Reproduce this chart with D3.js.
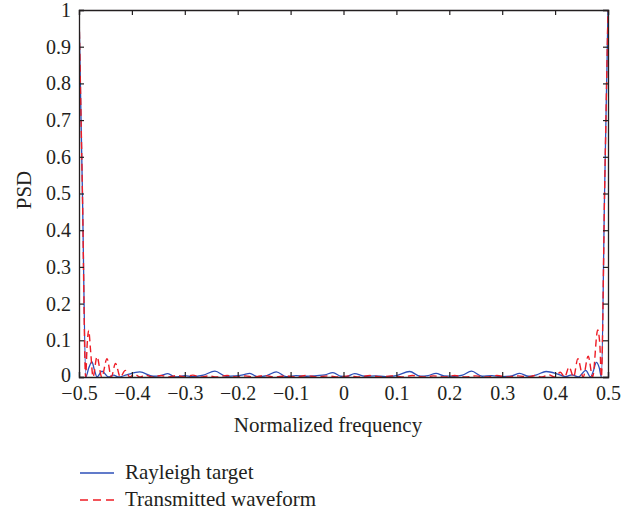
<!DOCTYPE html>
<meta charset="utf-8">
<script src="https://d3js.org/d3.v7.min.js"></script>
<style>
  body { margin: 0; background: #fff; }
  text { font-family: "Liberation Serif", "DejaVu Serif", serif; fill: #231f20; }
</style>
<div class="canvas"></div>

<script>
    const width = 641
    const height = 512
    const margin = {"top": 10, "right": 33, "bottom": 135, "left": 79}
    const graphWidth = width - margin.left - margin.right
    const graphHeight = height - margin.top - margin.bottom

    // tick values
    const xTicks = [-0.5, -0.4, -0.3, -0.2, -0.1, 0, 0.1, 0.2, 0.3, 0.4, 0.5]
    const yTicks = [0, 0.1, 0.2, 0.3, 0.4, 0.5, 0.6, 0.7, 0.8, 0.9, 1]

    // Rayleigh target (blue, solid)
    const rayleighFreq = [-0.5, -0.4935, -0.487, -0.4815, -0.4755, -0.471, -0.466, -0.4566, -0.444, -0.4345, -0.425, -0.41,
        -0.385, -0.36, -0.345, -0.332, -0.318, -0.3, -0.285, -0.265, -0.243, -0.222, -0.205, -0.19, -0.177, -0.163,
        -0.145, -0.127, -0.108, -0.09, -0.07, -0.05, -0.035, -0.02, -0.005, 0.005, 0.021, 0.04, 0.06, 0.08, 0.1,
        0.125, 0.145, 0.16, 0.175, 0.19, 0.21, 0.225, 0.242, 0.262, 0.28, 0.3, 0.318, 0.333, 0.35, 0.365, 0.383,
        0.405, 0.42, 0.432, 0.444, 0.458, 0.467, 0.472, 0.478, 0.4835, 0.4875, 0.4935, 0.5]
    const rayleighPsd = [1.0, 0.5, 0.0, 0.025, 0.041, 0.02, 0.0, 0.016, 0.0, 0.005, 0.0, 0.006,
        0.014, 0.002, 0.004, 0.009, 0.0, 0.004, 0.001, 0.005, 0.016, 0.002, 0.003, 0.006, 0.01, 0.001,
        0.004, 0.014, 0.001, 0.004, 0.002, 0.004, 0.006, 0.012, 0.002, 0.001, 0.009, 0.002, 0.003, 0.001, 0.004,
        0.015, 0.002, 0.004, 0.01, 0.003, 0.002, 0.005, 0.016, 0.002, 0.004, 0.001, 0.003, 0.01, 0.002, 0.006, 0.015,
        0.008, 0.001, 0.006, 0.0, 0.018, 0.0, 0.015, 0.04, 0.025, 0.0, 0.5, 1.0]

    // Transmitted waveform (red, dashed)
    const waveformFreq = [-0.5, -0.4935, -0.4875, -0.4845, -0.4817, -0.478, -0.4735, -0.466, -0.457, -0.447, -0.439,
        -0.431, -0.422, -0.4125, -0.404, -0.395, -0.385, -0.375, -0.36, -0.345, -0.33, -0.315, -0.3, -0.285, -0.27,
        -0.255, -0.24, -0.22, -0.2, -0.185, -0.17, -0.15, -0.13, -0.11, -0.09, -0.07, -0.05, -0.03, -0.01, 0.01,
        0.03, 0.05, 0.07, 0.09, 0.11, 0.13, 0.15, 0.17, 0.19, 0.21, 0.23, 0.25, 0.27, 0.29, 0.31, 0.33, 0.35,
        0.362, 0.375, 0.388, 0.399, 0.41, 0.418, 0.4265, 0.435, 0.443, 0.453, 0.4625, 0.471, 0.4805, 0.4845,
        0.4875, 0.4935, 0.5]
    const waveformPsd = [1.0, 0.5, 0.0, 0.09, 0.127, 0.07, 0.0, 0.055, 0.0, 0.05, 0.0,
        0.037, 0.0, 0.018, 0.0, 0.008, 0.0, 0.005, 0.0, 0.004, 0.0, 0.004, 0.0, 0.005, 0.0,
        0.003, 0.0, 0.004, 0.0, 0.003, 0.0, 0.004, 0.0, 0.003, 0.0, 0.004, 0.0, 0.003, 0.0, 0.003,
        0.0, 0.004, 0.0, 0.003, 0.0, 0.004, 0.0, 0.003, 0.0, 0.004, 0.0, 0.003, 0.0, 0.004, 0.0, 0.003, 0.0,
        0.004, 0.0, 0.006, 0.0, 0.013, 0.0, 0.027, 0.0, 0.05, 0.0, 0.057, 0.0, 0.128, 0.09,
        0.0, 0.5, 1.0]

    const series = [
        {name: "Rayleigh target", freq: rayleighFreq, psd: rayleighPsd, color: "#2d4fb8", dash: null, w: 1.3},
        {name: "Transmitted waveform", freq: waveformFreq, psd: waveformPsd, color: "#ee1c25", dash: "7,4", w: 1.4}
    ]

    const svg = d3.select(".canvas")
                .append("svg")
                .attr("width", width)
                .attr("height", height)

    const graph = svg.append("g")
                    .attr("transform", `translate(${margin.left},${margin.top})`)

    const x = d3.scaleLinear().domain([-0.5, 0.5]).range([0, graphWidth])
    const y = d3.scaleLinear().domain([0, 1]).range([graphHeight, 0])

    graph.append("clipPath").attr("id", "clip")
        .append("rect").attr("width", graphWidth).attr("height", graphHeight)

    const line = d3.line()
                    .x(d => x(d[0]))
                    .y(d => y(d[1]))
                    .curve(d3.curveMonotoneX)

    series.forEach(s => {
        graph.append("path")
            .datum(s.freq.map((f, i) => [f, s.psd[i]]))
            .attr("clip-path", "url(#clip)")
            .attr("fill", "none")
            .attr("stroke", s.color)
            .attr("stroke-width", s.w)
            .attr("stroke-dasharray", s.dash)
            .attr("d", line)
    })

    // axes, ticks pointing inward on all four sides
    const tickFmt = d => (d === 0 || d === 1) ? d3.format("d")(d) : d3.format(".1f")(d)

    const gX = graph.append("g").attr("transform", `translate(0,${graphHeight})`)
        .call(d3.axisBottom(x).tickValues(xTicks).tickSize(-5).tickPadding(9).tickFormat(tickFmt))
    const gXTop = graph.append("g")
        .call(d3.axisTop(x).tickValues(xTicks).tickSize(-5).tickFormat(""))
    const gY = graph.append("g")
        .call(d3.axisLeft(y).tickValues(yTicks).tickSize(-5).tickPadding(8).tickFormat(tickFmt))
    const gYRight = graph.append("g").attr("transform", `translate(${graphWidth},0)`)
        .call(d3.axisRight(y).tickValues(yTicks).tickSize(-5).tickFormat(""))

    ;[gX, gXTop, gY, gYRight].forEach(g => {
        g.select(".domain").attr("stroke", "#231f20").attr("stroke-width", 1.3)
        g.selectAll(".tick line").attr("stroke", "#231f20").attr("stroke-width", 1.2)
        g.selectAll("text")
            .style("font-size", "20px")
            .style("font-family", "'Liberation Serif', serif")
            .attr("fill", "#231f20")
    })

    // lift the "0" on the y axis a touch so it clears "-0.5"
    gY.selectAll(".tick text").filter(d => d === 0).attr("dy", "0.2em")

    // axis titles
    svg.append("text")
        .attr("x", 328)
        .attr("y", 432)
        .attr("text-anchor", "middle")
        .style("font-size", "21px")
        .text("Normalized frequency")

    svg.append("text")
        .attr("transform", `translate(31,190) rotate(-90)`)
        .attr("text-anchor", "middle")
        .style("font-size", "21px")
        .text("PSD")

    // legend
    const legend = svg.append("g").attr("transform", "translate(80,473)")
    series.forEach((s, i) => {
        const row = legend.append("g").attr("transform", `translate(0,${i * 27})`)
        row.append("line")
            .attr("x1", 0).attr("x2", 34).attr("y1", 0).attr("y2", 0)
            .attr("stroke", s.color)
            .attr("stroke-width", s.w)
            .attr("stroke-dasharray", s.dash ? "8,5" : null)
        row.append("text")
            .attr("x", 45).attr("y", 6)
            .style("font-size", "21px")
            .text(s.name)
    })
</script>
